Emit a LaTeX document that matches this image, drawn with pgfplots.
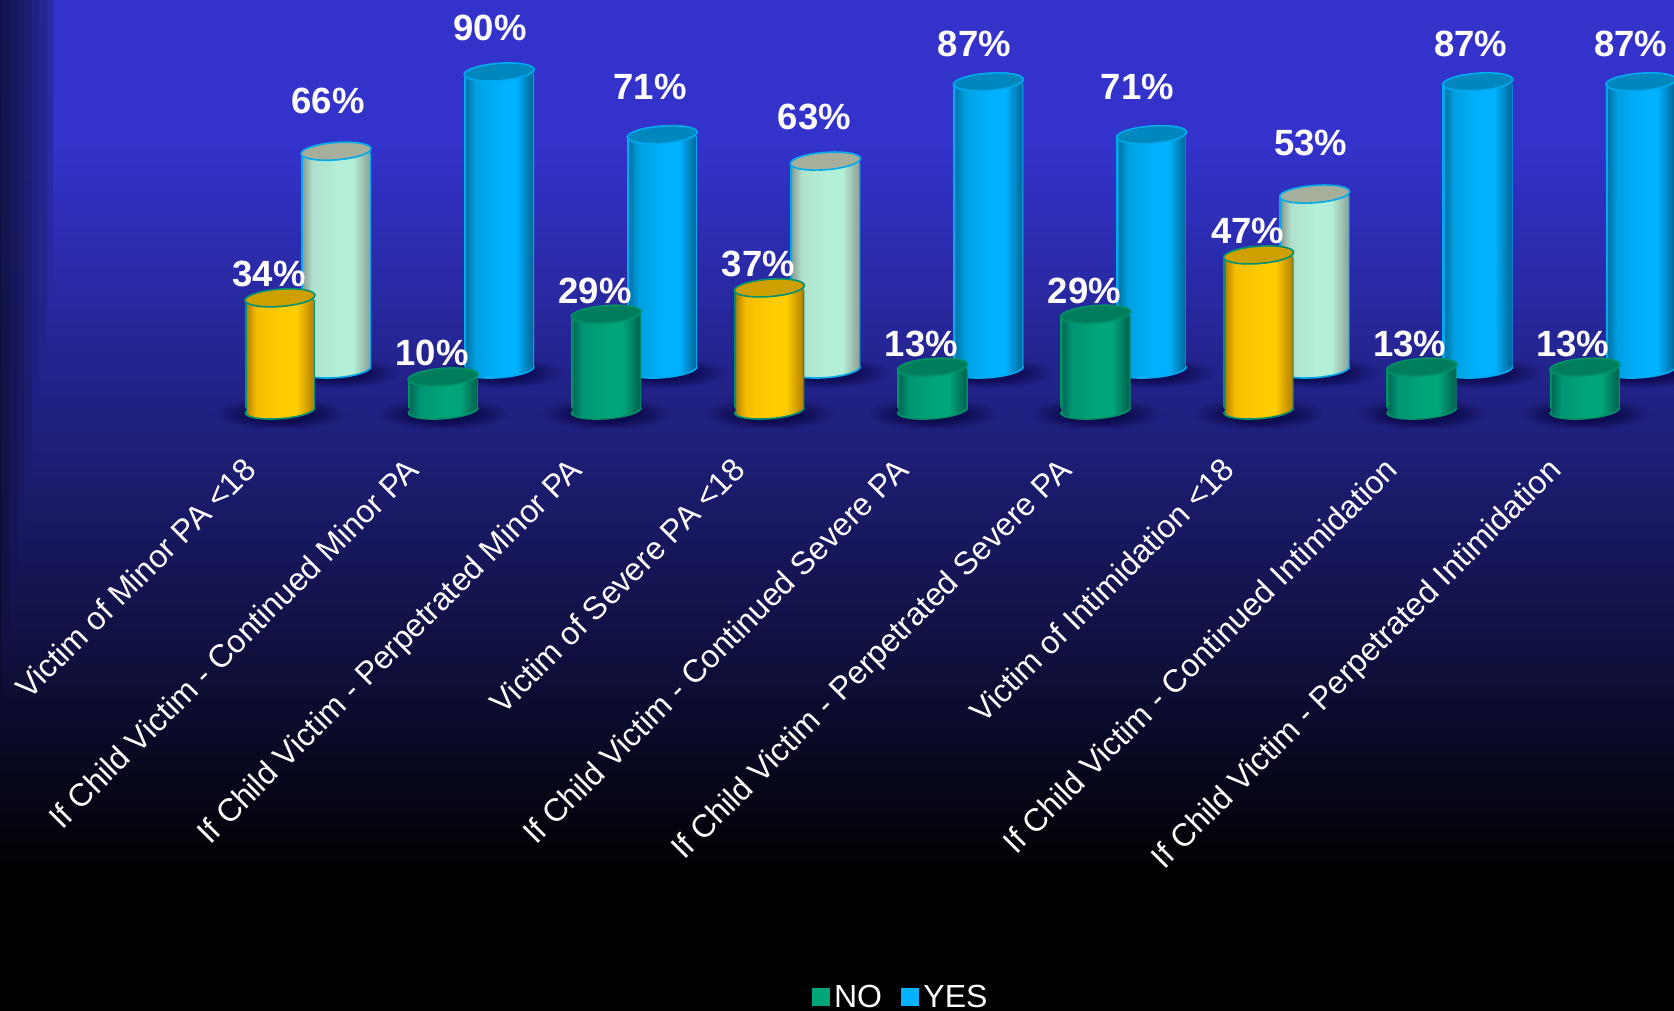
\documentclass[border=0pt]{standalone}
\usepackage{fontspec}
\setmainfont{Liberation Sans}
\usepackage{pgfplots}
\pgfplotsset{compat=1.18}

% page background, black at the foot rising to violet blue
\definecolor{bgE}{RGB}{51,51,204}
\pgfdeclareverticalshading{pagebg}{100bp}{
  color(0bp)=(black); color(31.5bp)=(black);
  color(68bp)=(bgE); color(100bp)=(bgE)}

% one horizontal cylinder shading per colour family, with a thin rim at each side
\newcommand\cylshading[6]{%
  \definecolor{l#1}{RGB}{#2}\definecolor{m#1}{RGB}{#3}\definecolor{c#1}{RGB}{#4}\definecolor{r#1}{RGB}{#5}%
  \definecolor{edge#1}{RGB}{#6}%
  \pgfdeclarehorizontalshading{cyl#1}{100bp}{
    color(0bp)=(edge#1); color(25bp)=(edge#1); color(25.9bp)=(edge#1); color(26.3bp)=(l#1);
    color(33bp)=(m#1); color(52bp)=(c#1); color(62bp)=(c#1);
    color(73.7bp)=(r#1); color(74.1bp)=(edge#1); color(75bp)=(edge#1); color(100bp)=(edge#1)}}
\cylshading{blue}{0,115,170}{0,160,225}{0,178,255}{0,105,155}{0,170,240}
\cylshading{mint}{140,160,150}{175,225,205}{180,240,215}{145,165,155}{0,170,235}
\cylshading{green}{0,105,85}{0,150,115}{0,165,120}{0,100,80}{0,145,105}
\cylshading{gold}{185,130,0}{245,190,0}{255,204,0}{185,130,0}{0,145,115}

% base and lid of a cylinder, as plot marks
\newcommand\cylmarks[2]{%
  \definecolor{top#1}{RGB}{#2}%
  \pgfdeclareplotmark{cylbase#1}{%
    \pgfscope
    \pgfpathellipse{\pgfpointorigin}{\pgfqpoint{35pt}{2.5pt}}{\pgfqpoint{0pt}{8.7pt}}%
    \pgfshadepath{cyl#1}{0}\pgfusepath{discard}%
    \pgftransformcm{1}{0.0714}{0}{1}{\pgfpointorigin}%
    \pgfpathmoveto{\pgfqpoint{-35pt}{0pt}}%
    \pgfpatharc{180}{360}{35pt and 8.7pt}%
    \pgfsetstrokecolor{edge#1}\pgfsetlinewidth{1.6pt}\pgfusepath{stroke}%
    \endpgfscope}%
  \pgfdeclareplotmark{cyltop#1}{%
    \pgfscope
    \pgfpathellipse{\pgfpointorigin}{\pgfqpoint{35pt}{2.5pt}}{\pgfqpoint{0pt}{8.7pt}}%
    \pgfsetstrokecolor{edge#1}\pgfsetfillcolor{top#1}\pgfsetlinewidth{1.6pt}%
    \pgfusepath{fill,stroke}%
    \endpgfscope}}
\cylmarks{blue}{0,135,190}
\cylmarks{mint}{165,175,155}
\cylmarks{green}{0,125,90}
\cylmarks{gold}{205,160,0}

% soft shadow on the floor under a cylinder, fading into the floor colour
\newcommand\floormark[3]{%
  \definecolor{floor#1}{RGB}{#2}\definecolor{pool#1}{RGB}{#3}%
  \pgfdeclareradialshading{shadow#1}{\pgfpointorigin}{
    color(0bp)=(pool#1); color(12bp)=(pool#1); color(25bp)=(floor#1); color(50bp)=(floor#1)}%
  \pgfdeclareplotmark{floorshadow#1}{%
    \pgfscope
    \pgfpathellipse{\pgfqpoint{0pt}{-4pt}}{\pgfqpoint{66pt}{0pt}}{\pgfqpoint{0pt}{16pt}}%
    \pgfshadepath{shadow#1}{0}\pgfusepath{discard}%
    \endpgfscope}}
\floormark{rear}{35,35,140}{16,14,88}
\floormark{front}{32,32,127}{14,12,80}

% #1 position, #2 value, #3 colour family, #4 label x offset, #5 label y offset
\newcommand\cylinder[5]{%
  \addplot[forget plot, only marks, mark=cylbase#3] coordinates {(#1,0)};
  \addplot[forget plot, ybar, bar shift=0pt, bar width=70pt, draw=none,
           rounded corners=3pt, shade, shading=cyl#3] coordinates {(#1,#2)};
  \addplot[forget plot, only marks, mark=cyltop#3,
           /pgf/number format/assume math mode=true,
           nodes near coords={\pgfmathprintnumber{\pgfplotspointmeta}\%},
           every node near coord/.append style={anchor=base, inner sep=0pt, text=white,
             font=\fontsize{36.5}{36.5}\selectfont\bfseries, xshift=#4pt, yshift=#5pt}]
           coordinates {(#1,#2)};
}

\pgfplotsset{
  chartframe/.style={
    scale only axis, width=1674pt, height=470pt, at={(0pt,541pt)}, anchor=south west,
    enlargelimits=false, axis line style={draw=none}, major tick length=0pt, ytick=\empty},
  rearrow/.style={chartframe, xmin=-2.0601, xmax=8.2035, ymin=-30.606, ymax=111.818, xtick=\empty},
  frontrow/.style={chartframe, xmin=-1.7167, xmax=8.5469, ymin=-18.18, ymax=124.24}}

\begin{document}
\begin{tikzpicture}
\path[use as bounding box] (0pt,0pt) rectangle (1674pt,1011pt);
\shade[shading=pagebg] (0pt,0pt) rectangle (1674pt,1011pt);
% stepped dark columns along the left edge, each melting into the page further down
\foreach \xa/\xb/\h/\bot/\tp in {0/2/700/24/36,2/9/640/32/42,9/17/570/42/46,17/24/530/47/51,
                                 24/32/480/54/57,32/39/400/65/64,39/47/370/69/72,47/53/300/78/83}{
  \shade[top color=bgE!\tp!black, bottom color=bgE!\bot!black]
    (\xa pt,1011pt) rectangle (\xb pt,{(1011-\h)*1pt});
}

% rear row: shadows first, so the cylinders stand on them
\begin{axis}[rearrow]
\addplot[only marks, mark=floorshadowrear] coordinates
  {(0,0) (1,0) (2,0) (3,0) (4,0) (5,0) (6,0) (7,0) (8,0)};
\end{axis}
\begin{axis}[rearrow]
\cylinder{0}{66}{mint}{-8}{38}
\cylinder{1}{90}{blue}{-9}{31}
\cylinder{2}{71}{blue}{-12}{35}
\cylinder{3}{63}{mint}{-11}{32}
\cylinder{4}{87}{blue}{-14}{25}
\cylinder{5}{71}{blue}{-14}{35}
\cylinder{6}{53}{mint}{-4}{39}
\cylinder{7}{87}{blue}{-7}{25}
\cylinder{8}{87}{blue}{-10}{25}
\end{axis}

% front row, with the category names and the legend
\begin{axis}[frontrow, xtick=\empty]
\addplot[only marks, mark=floorshadowfront] coordinates
  {(0,0) (1,0) (2,0) (3,0) (4,0) (5,0) (6,0) (7,0) (8,0)};
\end{axis}
\begin{axis}[frontrow,
  xtick={0,...,8},
  xticklabels={Victim of Minor PA <18,
    If Child Victim - Continued Minor PA,
    If Child Victim - Perpetrated Minor PA,
    Victim of Severe PA <18,
    If Child Victim - Continued Severe PA,
    If Child Victim - Perpetrated Severe PA,
    Victim of Intimidation <18,
    If Child Victim - Continued Intimidation,
    If Child Victim - Perpetrated Intimidation},
  xticklabel style={rotate=45, anchor=north east, inner sep=0pt, text=white,
    font=\fontsize{32}{32}\selectfont, xshift=-16.8pt, yshift=37.7pt},
  legend style={at={(axis description cs:0.538,-1.121)}, anchor=center, draw=none, fill=none,
    text=white, font=\fontsize{32}{32}\selectfont, legend columns=2,
    /tikz/every odd column/.append style={column sep=3pt},
    /tikz/every even column/.append style={column sep=17pt}},
  legend cell align=left]
\cylinder{0}{34}{gold}{-11}{11}
\cylinder{1}{10}{green}{-11}{11}
\cylinder{2}{29}{green}{-11}{11}
\cylinder{3}{37}{gold}{-11}{11}
\cylinder{4}{13}{green}{-11}{11}
\cylinder{5}{29}{green}{-11}{11}
\cylinder{6}{47}{gold}{-11}{11}
\cylinder{7}{13}{green}{-12}{11}
\cylinder{8}{13}{green}{-12}{11}
\addlegendimage{legend image code/.code={\fill[cgreen] (0pt,-8.5pt) rectangle (17pt,8.5pt);}}
\addlegendentry{NO}
\addlegendimage{legend image code/.code={\fill[cblue] (0pt,-8.5pt) rectangle (17pt,8.5pt);}}
\addlegendentry{YES}
\end{axis}
\end{tikzpicture}
\end{document}
